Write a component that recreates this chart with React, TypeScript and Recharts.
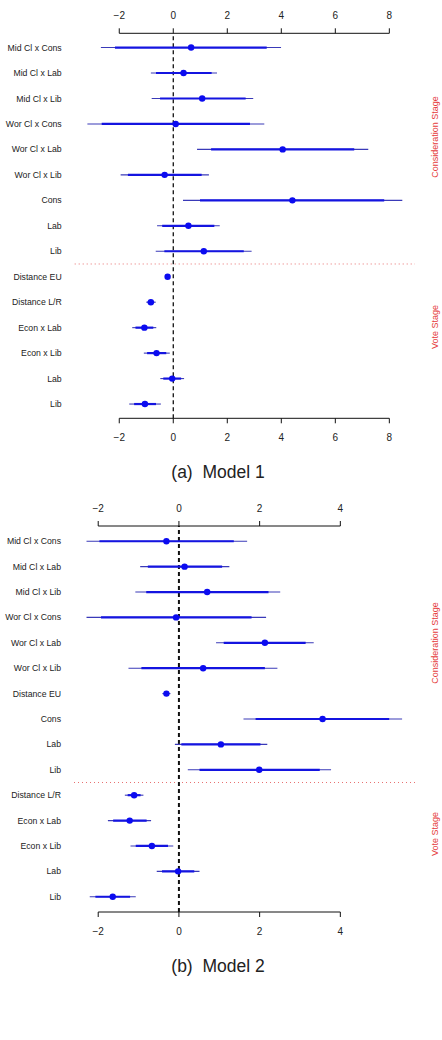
import React from "react";
import {
    ErrorBar,
    ReferenceLine,
    Scatter,
    ScatterChart,
    XAxis,
    YAxis,
} from "recharts";

// Model 1: coefficient, inner (thick) and outer (thin) interval bounds
const labels1 = [
    "Mid Cl x Cons", "Mid Cl x Lab", "Mid Cl x Lib", "Wor Cl x Cons", "Wor Cl x Lab",
    "Wor Cl x Lib", "Cons", "Lab", "Lib", "Distance EU", "Distance L/R",
    "Econ x Lab", "Econ x Lib", "Lab", "Lib",
];
const est1 = [0.66, 0.38, 1.07, 0.09, 4.05, -0.32, 4.41, 0.56, 1.13, -0.21, -0.83, -1.07, -0.62, -0.04, -1.05];
const innerLo1 = [-2.16, -0.64, -0.49, -2.65, 1.4, -1.68, 0.99, -0.41, -0.33, -0.24, -0.95, -1.4, -0.97, -0.37, -1.45];
const innerHi1 = [3.46, 1.42, 2.68, 2.84, 6.7, 1.05, 7.81, 1.52, 2.61, -0.18, -0.71, -0.74, -0.26, 0.29, -0.64];
const outerLo1 = [-2.68, -0.83, -0.8, -3.18, 0.88, -1.95, 0.36, -0.6, -0.65, -0.26, -1.0, -1.52, -1.09, -0.48, -1.63];
const outerHi1 = [3.99, 1.62, 2.96, 3.37, 7.22, 1.32, 8.48, 1.72, 2.9, -0.16, -0.65, -0.63, -0.13, 0.4, -0.46];
const ticks1 = [-2, 0, 2, 4, 6, 8];

// Model 2
const labels2 = [
    "Mid Cl x Cons", "Mid Cl x Lab", "Mid Cl x Lib", "Wor Cl x Cons", "Wor Cl x Lab",
    "Wor Cl x Lib", "Distance EU", "Cons", "Lab", "Lib", "Distance L/R",
    "Econ x Lab", "Econ x Lib", "Lab", "Lib",
];
const est2 = [-0.31, 0.14, 0.7, -0.07, 2.13, 0.6, -0.31, 3.56, 1.04, 1.99, -1.11, -1.22, -0.67, -0.02, -1.64];
const innerLo2 = [-1.97, -0.77, -0.81, -1.93, 1.11, -0.93, -0.37, 1.9, 0.06, 0.51, -1.27, -1.63, -1.07, -0.42, -2.07];
const innerHi2 = [1.36, 1.07, 2.22, 1.8, 3.14, 2.13, -0.25, 5.21, 2.02, 3.49, -0.95, -0.8, -0.27, 0.38, -1.21];
const outerLo2 = [-2.29, -0.96, -1.08, -2.29, 0.92, -1.25, -0.41, 1.6, -0.1, 0.22, -1.34, -1.76, -1.2, -0.55, -2.21];
const outerHi2 = [1.69, 1.25, 2.51, 2.16, 3.34, 2.44, -0.21, 5.53, 2.19, 3.77, -0.88, -0.69, -0.14, 0.51, -1.07];
const ticks2 = [-2, 0, 2, 4];

const rowTicks = labels1.map((_, i) => i + 1);
const FONT = "'Liberation Sans', Arial, Helvetica, sans-serif";

type ModelProps = {
    labels: string[];
    est: number[];
    innerLo: number[];
    innerHi: number[];
    outerLo: number[];
    outerHi: number[];
    ticks: number[];
    xDomain: [number, number];
    yDomain: [number, number];
    split: number;
    height: number;
    margin: { top: number; right: number; bottom: number; left: number };
    zeroWidth: number;
    bottomGap: number;
};

function fmtTick(v: number) {
    return v < 0 ? `\u2212${Math.abs(v)}` : `${v}`;
}

function CoefPlot(props: ModelProps) {
    const { labels, est, innerLo, innerHi, outerLo, outerHi, ticks, xDomain, yDomain } = props;

    const data = labels.map((label, i) => ({
        row: i + 1,
        label,
        est: est[i],
        innerErr: [est[i] - innerLo[i], innerHi[i] - est[i]],
        outerErr: [est[i] - outerLo[i], outerHi[i] - est[i]],
    }));

    const tickStyle = { fontSize: 10, fill: "#222", fontFamily: FONT };
    const first = ticks[0];
    const last = ticks[ticks.length - 1];

    // row names: plain text so they never wrap
    const rowTick = (p: any) => (
        <text
            x={p.x}
            y={p.y}
            dy="0.35em"
            textAnchor="end"
            fontSize={8.7}
            fill="#222"
            fontFamily={FONT}
        >
            {labels[p.payload.value - 1]}
        </text>
    );

    return (
        <ScatterChart width={442} height={props.height} margin={props.margin}>
            <XAxis
                type="number"
                dataKey="est"
                domain={xDomain}
                allowDataOverflow
                ticks={ticks}
                interval={0}
                height={25}
                axisLine={false}
                tickSize={5}
                tickMargin={props.bottomGap}
                tickLine={{ stroke: "#111" }}
                tick={tickStyle}
                tickFormatter={fmtTick}
            />
            <XAxis
                xAxisId="top"
                orientation="top"
                type="number"
                dataKey="est"
                domain={xDomain}
                allowDataOverflow
                ticks={ticks}
                interval={0}
                height={25}
                axisLine={false}
                tickSize={5}
                tickMargin={9}
                tickLine={{ stroke: "#111" }}
                tick={tickStyle}
                tickFormatter={fmtTick}
            />
            <YAxis
                type="number"
                dataKey="row"
                domain={yDomain}
                allowDataOverflow
                reversed
                ticks={rowTicks}
                interval={0}
                width={70}
                axisLine={false}
                tickLine={false}
                tickSize={6}
                tickMargin={7}
                tick={rowTick}
            />

            {/* axis lines run only between the outer ticks */}
            <ReferenceLine
                segment={[{ x: first, y: yDomain[0] }, { x: last, y: yDomain[0] }]}
                stroke="#111"
                strokeWidth={1}
                ifOverflow="visible"
            />
            <ReferenceLine
                segment={[{ x: first, y: yDomain[1] }, { x: last, y: yDomain[1] }]}
                stroke="#111"
                strokeWidth={1}
                ifOverflow="visible"
            />

            <ReferenceLine
                y={props.split}
                stroke="#e87070"
                strokeWidth={1}
                strokeDasharray="1 3"
            />
            <ReferenceLine
                x={0}
                stroke="#111"
                strokeWidth={props.zeroWidth}
                strokeDasharray="4 3"
            />

            <Scatter
                xAxisId="top"
                data={data}
                isAnimationActive={false}
                shape={() => <g />}
            />
            <Scatter
                data={data}
                isAnimationActive={false}
                shape={(p: any) => <circle cx={p.cx} cy={p.cy} r={3.2} fill="#0b0bf0" />}
            >
                <ErrorBar
                    dataKey="outerErr"
                    direction="x"
                    width={0}
                    stroke="#3a3ab8"
                    strokeWidth={1.1}
                    isAnimationActive={false}
                />
                <ErrorBar
                    dataKey="innerErr"
                    direction="x"
                    width={0}
                    stroke="#1414e0"
                    strokeWidth={2.2}
                    isAnimationActive={false}
                />
            </Scatter>
        </ScatterChart>
    );
}

function StageLabel({ x, y, text }: { x: number; y: number; text: string }) {
    return (
        <div
            style={{
                position: "absolute",
                left: x,
                top: y,
                transform: "translate(-50%, -50%) rotate(-90deg)",
                fontFamily: FONT,
                fontSize: 9,
                color: "#e53b3b",
                whiteSpace: "nowrap",
                lineHeight: 1,
            }}
        >
            {text}
        </div>
    );
}

function Caption({ top, text }: { top: number; text: string }) {
    return (
        <div
            style={{
                position: "absolute",
                left: 0,
                width: 436,
                top,
                textAlign: "center",
                fontFamily: FONT,
                fontSize: 17.5,
                lineHeight: 1,
                color: "#222",
                whiteSpace: "pre",
            }}
        >
            {text}
        </div>
    );
}

export default function App() {
    return (
        <div
            style={{
                position: "absolute",
                left: 0,
                top: 0,
                width: 442,
                height: 1040,
                background: "#ffffff",
                overflow: "hidden",
            }}
        >
            <div style={{ position: "absolute", left: 0, top: 0 }}>
                <CoefPlot
                    labels={labels1}
                    est={est1}
                    innerLo={innerLo1}
                    innerHi={innerHi1}
                    outerLo={outerLo1}
                    outerHi={outerHi1}
                    ticks={ticks1}
                    xDomain={[-3.65, 8.95]}
                    yDomain={[0.44, 15.56]}
                    split={9.5}
                    height={450}
                    margin={{ top: 8.3, right: 27, bottom: 6.7, left: 4.7 }}
                    zeroWidth={1.3}
                    bottomGap={11}
                />
            </div>
            <StageLabel x={435} y={137} text="Consideration Stage" />
            <StageLabel x={435} y={327} text="Vote Stage" />
            <Caption top={463.5} text="(a)  Model 1" />

            <div style={{ position: "absolute", left: 0, top: 500 }}>
                <CoefPlot
                    labels={labels2}
                    est={est2}
                    innerLo={innerLo2}
                    innerHi={innerHi2}
                    outerLo={outerLo2}
                    outerHi={outerHi2}
                    ticks={ticks2}
                    xDomain={[-2.6, 5.85]}
                    yDomain={[0.4, 15.6]}
                    split={10.5}
                    height={440}
                    margin={{ top: 1, right: 27, bottom: 3, left: 4 }}
                    zeroWidth={2}
                    bottomGap={11}
                />
            </div>
            <StageLabel x={435} y={643} text="Consideration Stage" />
            <StageLabel x={435} y={834} text="Vote Stage" />
            <Caption top={958} text="(b)  Model 2" />
        </div>
    );
}
